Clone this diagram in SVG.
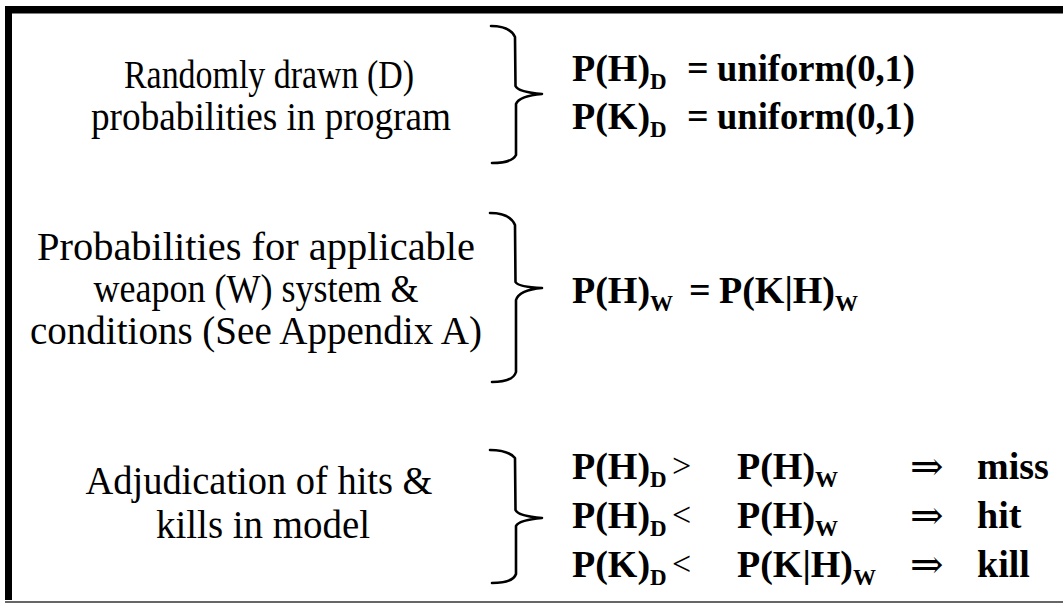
<svg xmlns="http://www.w3.org/2000/svg" width="1063" height="606" viewBox="0 0 1063 606">
<style>
.lbl{font-family:"Liberation Serif","Times New Roman",serif;font-size:40px;fill:#000;text-anchor:middle}
.f{font-family:"Liberation Serif","DejaVu Serif",serif;font-size:38px;font-weight:bold;fill:#000}
.op{font-family:"Liberation Serif","DejaVu Serif",serif;font-size:34px;font-weight:normal;fill:#000}
.arr{font-family:"DejaVu Serif","Liberation Serif",serif;font-size:40px;font-weight:normal;fill:#000}
.sub{font-size:23px}
.br{fill:none;stroke:#000;stroke-width:2.6;stroke-linejoin:round;stroke-linecap:round}
</style>
<rect x="0" y="0" width="1063" height="606" fill="#fff"/>
<g id="frame">
<rect x="5" y="6" width="1058" height="7.5" fill="#000"/>
<rect x="5" y="6" width="7" height="594" fill="#000"/>
<line x1="5" y1="602" x2="1063" y2="602" stroke="#333" stroke-width="1.6"/>
</g>
<g id="connectors">
<path class="br" d="M491,26 Q510,26 515,37 L515.5,86 Q518,92 542,94 Q519,96 516,104 L516,155 Q512,163 492,163"/>
<path class="br" d="M490,213 Q510,213 515,225 L515.5,282 Q518,287 542,288 Q519,290 516,300 L516,372 Q513,382 492,382"/>
<path class="br" d="M490,450 Q508,450 515,458 L515.5,510 Q518,516 542,518 Q519,520 516,526 L516,574 Q513,583 492,583"/>
</g>
<g id="n1">
<text class="lbl" x="269" y="88" textLength="290" lengthAdjust="spacingAndGlyphs">Randomly drawn (D)</text>
<text class="lbl" x="271" y="130" textLength="360" lengthAdjust="spacingAndGlyphs">probabilities in program</text>
</g>
<g id="f1">
<text class="f" x="572" y="81">P(H)<tspan class="sub" dy="8">D</tspan></text>
<text class="f" x="687" y="81">=</text>
<text class="f" x="717" y="81" textLength="198" lengthAdjust="spacingAndGlyphs">uniform(0,1)</text>
<text class="f" x="572" y="129">P(K)<tspan class="sub" dy="8">D</tspan></text>
<text class="f" x="687" y="129">=</text>
<text class="f" x="717" y="129" textLength="198" lengthAdjust="spacingAndGlyphs">uniform(0,1)</text>
</g>
<g id="n2">
<text class="lbl" x="256" y="260" textLength="438" lengthAdjust="spacingAndGlyphs">Probabilities for applicable</text>
<text class="lbl" x="256" y="302" textLength="325" lengthAdjust="spacingAndGlyphs">weapon (W) system &amp;</text>
<text class="lbl" x="256" y="344" textLength="452" lengthAdjust="spacingAndGlyphs">conditions (See Appendix A)</text>
</g>
<g id="f2">
<text class="f" x="572" y="303">P(H)<tspan class="sub" dy="8">W</tspan></text>
<text class="f" x="689" y="303">=</text>
<text class="f" x="719" y="303">P(K|H)<tspan class="sub" dy="8">W</tspan></text>
</g>
<g id="n3">
<text class="lbl" x="259" y="494" textLength="347" lengthAdjust="spacingAndGlyphs">Adjudication of hits &amp;</text>
<text class="lbl" x="263" y="538" textLength="214" lengthAdjust="spacingAndGlyphs">kills in model</text>
</g>
<g id="f3">
<text class="f" x="572" y="479">P(H)<tspan class="sub" dy="8">D</tspan></text>
<text class="op" x="672" y="477">&gt;</text>
<text class="f" x="737" y="479">P(H)<tspan class="sub" dy="8">W</tspan></text>
<text class="arr" x="910" y="480">⇒</text>
<text class="f" x="977" y="479">miss</text>
<text class="f" x="572" y="528">P(H)<tspan class="sub" dy="8">D</tspan></text>
<text class="op" x="672" y="526">&lt;</text>
<text class="f" x="737" y="528">P(H)<tspan class="sub" dy="8">W</tspan></text>
<text class="arr" x="910" y="529">⇒</text>
<text class="f" x="977" y="528">hit</text>
<text class="f" x="572" y="577">P(K)<tspan class="sub" dy="8">D</tspan></text>
<text class="op" x="672" y="575">&lt;</text>
<text class="f" x="737" y="577">P(K|H)<tspan class="sub" dy="8">W</tspan></text>
<text class="arr" x="910" y="578">⇒</text>
<text class="f" x="977" y="577">kill</text>
</g>
</svg>
